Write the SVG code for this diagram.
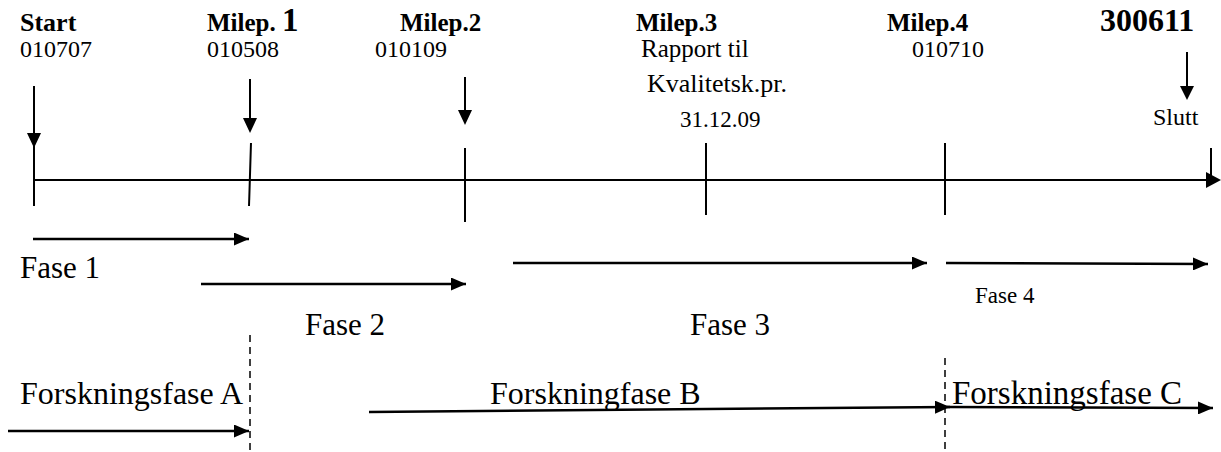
<svg xmlns="http://www.w3.org/2000/svg" width="1221" height="452" viewBox="0 0 1221 452">
<defs>
<marker id="big" markerWidth="15" markerHeight="13" refX="15" refY="6.5" orient="auto" markerUnits="userSpaceOnUse" viewBox="0 0 15 13">
<path d="M0,0 L15,6.5 L0,13 Z" fill="#000"/>
</marker>
</defs>
<style>
text{font-family:"Liberation Serif","Times New Roman",serif;fill:#000}
.b{font-weight:bold}
.t{font-size:24px}
.m{font-size:25px;font-weight:bold}
.l{font-size:31px}
.ln{stroke:#000;stroke-width:2;fill:none}
.ar{stroke:#000;stroke-width:2.5;fill:none;marker-end:url(#big)}
.dash{stroke:#000;stroke-width:1.5;stroke-dasharray:7,5;fill:none}
</style>
<rect width="1221" height="452" fill="#fff"/>
<g id="connectors">
<line class="ln" x1="34" y1="180" x2="1207" y2="180"/>
<path d="M1206,172 L1221,180 L1206,188 Z" fill="#000"/>
<line class="ln" x1="34" y1="86" x2="34" y2="206"/>
<path d="M27,133 L41,133 L34,148 Z" fill="#000"/>
<line class="ln" x1="250" y1="79" x2="250" y2="120"/>
<path d="M243,118 L257,118 L250,133 Z" fill="#000"/>
<line class="ln" x1="251" y1="143" x2="249" y2="206"/>
<line class="ln" x1="465" y1="77" x2="465" y2="112"/>
<path d="M458,110 L472,110 L465,125 Z" fill="#000"/>
<line class="ln" x1="465" y1="148" x2="465" y2="222"/>
<line class="ln" x1="706" y1="143" x2="706" y2="215"/>
<line class="ln" x1="945" y1="143" x2="945" y2="215"/>
<line class="ln" x1="1187" y1="52" x2="1187" y2="88"/>
<path d="M1180,86 L1194,86 L1187,100 Z" fill="#000"/>
<line class="ln" x1="1211" y1="148" x2="1211" y2="180"/>
<line class="ar" x1="33" y1="239" x2="249" y2="239"/>
<line class="ar" x1="201" y1="284" x2="466" y2="284"/>
<line class="ar" x1="513" y1="263" x2="927" y2="263"/>
<line class="ar" x1="946" y1="263" x2="1208" y2="264"/>
<line class="dash" x1="250" y1="335" x2="250" y2="452"/>
<line class="dash" x1="945" y1="358" x2="945" y2="452"/>
<line class="ar" x1="8" y1="431" x2="249" y2="431"/>
<line class="ar" x1="369" y1="412" x2="950" y2="407"/>
<line class="ar" x1="947" y1="407" x2="1213" y2="408"/>
</g>
<g id="start"><text class="b" x="20" y="31" font-size="26">Start</text><text class="t" x="20" y="57">010707</text></g>
<g id="milep1"><text class="m" x="207" y="31">Milep. <tspan font-size="33">1</tspan></text><text class="t" x="207" y="57">010508</text></g>
<g id="milep2"><text class="m" x="400" y="31">Milep.2</text><text class="t" x="375" y="57">010109</text></g>
<g id="milep3"><text class="m" x="636" y="31">Milep.3</text><text x="641" y="57" font-size="25">Rapport til</text><text x="647" y="92" font-size="26">Kvalitetsk.pr.</text><text x="680" y="127" font-size="23">31.12.09</text></g>
<g id="milep4"><text class="m" x="887" y="31">Milep.4</text><text class="t" x="912" y="57">010710</text></g>
<g id="slutt"><text class="b" x="1100" y="31" font-size="32">300611</text><text x="1153" y="125" font-size="24">Slutt</text></g>
<g id="fase1"><text class="l" x="20" y="278">Fase 1</text></g>
<g id="fase2"><text class="l" x="305" y="335">Fase 2</text></g>
<g id="fase3"><text class="l" x="690" y="335">Fase 3</text></g>
<g id="fase4"><text x="975" y="303" font-size="23">Fase 4</text></g>
<g id="forskA"><text x="20" y="404" font-size="32">Forskningsfase A</text></g>
<g id="forskB"><text x="490" y="404" font-size="32">Forskningfase B</text></g>
<g id="forskC"><text x="952" y="404" font-size="33">Forskningsfase C</text></g>
</svg>
